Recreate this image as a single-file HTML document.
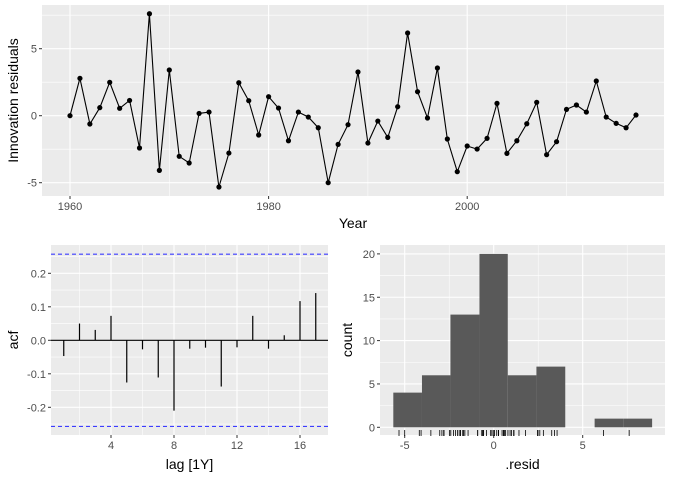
<!DOCTYPE html>
<html><head><meta charset="utf-8">
<style>
html,body{margin:0;padding:0;background:#fff;}
svg{display:block;font-family:"Liberation Sans",Arial,sans-serif;}
.tick{font-size:11px;fill:#4d4d4d;}
.title{font-size:14px;fill:#000;}
</style></head>
<body>
<svg id="chart" width="673" height="477" viewBox="0 0 673 477" xmlns="http://www.w3.org/2000/svg"></svg>
<script>
// ---- data ----
const years = [];
for (let y = 1960; y <= 2017; y++) years.push(y);
const residuals = [0,2.79,-0.62,0.6,2.49,0.55,1.14,-2.41,7.61,-4.08,3.41,-3.03,-3.53,0.17,0.27,-5.32,-2.79,2.46,1.12,-1.44,1.42,0.57,-1.87,0.27,-0.1,-0.9,-5.0,-2.14,-0.67,3.26,-2.04,-0.4,-1.62,0.67,6.17,1.79,-0.17,3.56,-1.74,-4.18,-2.26,-2.49,-1.69,0.92,-2.81,-1.87,-0.6,1.0,-2.91,-1.94,0.47,0.8,0.27,2.59,-0.1,-0.57,-0.9,0.05];
const acfLags = [1,2,3,4,5,6,7,8,9,10,11,12,13,14,15,16,17];
const acfValues = [-0.047,0.05,0.031,0.073,-0.126,-0.027,-0.111,-0.21,-0.025,-0.022,-0.138,-0.021,0.073,-0.025,0.015,0.117,0.141];
const acfBound = 0.257;
const binEdges = [-5.64,-4.03,-2.43,-0.8,0.79,2.4,4.02,5.67,7.28,8.9];
const binCounts = [4,6,13,20,6,7,0,1,1];
const topYTicks = [-5,0,5];
const topXTicks = [1960,1980,2000];
const acfYTicks = [-0.2,-0.1,0.0,0.1,0.2];
const acfXTicks = [4,8,12,16];
const histYTicks = [0,5,10,15,20];
const histXTicks = [-5,0,5];

const NS = "http://www.w3.org/2000/svg";
const svg = document.getElementById("chart");
function mk(tag, attrs, parent) {
  const e = document.createElementNS(NS, tag);
  for (const k in attrs) e.setAttribute(k, attrs[k]);
  (parent || svg).appendChild(e);
  return e;
}
function txt(x, y, s, cls, anchor, parent) {
  const t = mk("text", {x: x, y: y, class: cls, "text-anchor": anchor || "middle"}, parent);
  t.textContent = s;
  return t;
}
function fmt1(v){ return (Math.abs(v)<1e-9?"0.0":v.toFixed(1)).replace("-","-"); }

// ---------- TOP PANEL ----------
const tp = {l:42, r:664, t:5, b:196};
const tx = yr => 70 + (yr - 1960) * 9.93;
const ty = v => 115.7 - v * 13.4;
const gTop = mk("g", {});


mk("rect", {x:tp.l, y:tp.t, width:tp.r-tp.l, height:tp.b-tp.t, fill:"#ebebeb"}, gTop);
[-7.5,-2.5,2.5,7.5].forEach(v => { const y = ty(v); if (y>tp.t && y<tp.b) mk("line",{x1:tp.l,x2:tp.r,y1:y,y2:y,stroke:"#fff","stroke-width":0.55},gTop); });
[1970,1990,2010].forEach(v => { const x = tx(v); mk("line",{x1:x,x2:x,y1:tp.t,y2:tp.b,stroke:"#fff","stroke-width":0.55},gTop); });
topYTicks.forEach(v => { const y = ty(v);
  mk("line",{x1:tp.l,x2:tp.r,y1:y,y2:y,stroke:"#fff","stroke-width":1.1},gTop);
  mk("line",{x1:tp.l-3,x2:tp.l,y1:y,y2:y,stroke:"#333","stroke-width":1},gTop);
  txt(tp.l-5, y+4, String(v), "tick", "end", gTop);
});
topXTicks.forEach(v => { const x = tx(v);
  mk("line",{x1:x,x2:x,y1:tp.t,y2:tp.b,stroke:"#fff","stroke-width":1.1},gTop);
  mk("line",{x1:x,x2:x,y1:tp.b,y2:tp.b+3,stroke:"#333","stroke-width":1},gTop);
  txt(x, tp.b+14, String(v), "tick", "middle", gTop);
});
const pts = years.map((yr,i) => tx(yr).toFixed(1)+","+ty(residuals[i]).toFixed(1)).join(" ");
const line = mk("polyline", {points: pts, fill:"none", stroke:"#000", "stroke-width":1.1}, gTop);


years.forEach((yr,i) => {
  const c = mk("circle", {cx: tx(yr), cy: ty(residuals[i]), r: 2.6, fill:"#000"}, gTop);
  
  
});
const xt1 = txt((tp.l+tp.r)/2, 228, "Year", "title", "middle", gTop);


const yt1 = txt(0, 0, "Innovation residuals", "title", "middle", gTop);
yt1.setAttribute("transform", "translate(18," + ((tp.t+tp.b)/2) + ") rotate(-90)");



// ---------- ACF PANEL ----------
const ap = {l:51, r:328, t:245, b:435};
const ax = lag => 111 + (lag - 4) * 15.75;
const ay = v => 340.3 - v * 335;
const gAcf = mk("g", {});


mk("rect", {x:ap.l, y:ap.t, width:ap.r-ap.l, height:ap.b-ap.t, fill:"#ebebeb"}, gAcf);
[-0.25,-0.15,-0.05,0.05,0.15,0.25].forEach(v => { const y=ay(v); mk("line",{x1:ap.l,x2:ap.r,y1:y,y2:y,stroke:"#fff","stroke-width":0.55},gAcf); });
[2,6,10,14].forEach(v => { const x=ax(v); mk("line",{x1:x,x2:x,y1:ap.t,y2:ap.b,stroke:"#fff","stroke-width":0.55},gAcf); });
acfYTicks.forEach(v => { const y = ay(v);
  mk("line",{x1:ap.l,x2:ap.r,y1:y,y2:y,stroke:"#fff","stroke-width":1.1},gAcf);
  mk("line",{x1:ap.l-3,x2:ap.l,y1:y,y2:y,stroke:"#333","stroke-width":1},gAcf);
  txt(ap.l-5, y+4, v.toFixed(1), "tick", "end", gAcf);
});
acfXTicks.forEach(v => { const x = ax(v);
  mk("line",{x1:x,x2:x,y1:ap.t,y2:ap.b,stroke:"#fff","stroke-width":1.1},gAcf);
  mk("line",{x1:x,x2:x,y1:ap.b,y2:ap.b+3,stroke:"#333","stroke-width":1},gAcf);
  txt(x, ap.b+14, String(v), "tick", "middle", gAcf);
});
mk("line",{x1:ap.l,x2:ap.r,y1:ay(0),y2:ay(0),stroke:"#000","stroke-width":1.1},gAcf);
acfLags.forEach((lag,i) => {
  const b = mk("line",{x1:ax(lag),x2:ax(lag),y1:ay(0),y2:ay(acfValues[i]),stroke:"#000","stroke-width":1.2},gAcf);
  
  
});
[acfBound, -acfBound].forEach(v => {
  const d = mk("line",{x1:ap.l,x2:ap.r,y1:ay(v),y2:ay(v),stroke:"#3d3dff","stroke-width":1.1,"stroke-dasharray":"4,3"},gAcf);
  
  
});
const xt2 = txt((ap.l+ap.r)/2, 469, "lag [1Y]", "title", "middle", gAcf);


const yt2 = txt(0, 0, "acf", "title", "middle", gAcf);
yt2.setAttribute("transform", "translate(18," + ((ap.t+ap.b)/2) + ") rotate(-90)");



// ---------- HISTOGRAM PANEL ----------
const hp = {l:380, r:665, t:245, b:435};
const hx = v => 493.7 + v * 17.8;
const hy = c => 427.3 - c * 8.67;
const gH = mk("g", {});


mk("rect", {x:hp.l, y:hp.t, width:hp.r-hp.l, height:hp.b-hp.t, fill:"#ebebeb"}, gH);
[2.5,7.5,12.5,17.5].forEach(v => { const y=hy(v); mk("line",{x1:hp.l,x2:hp.r,y1:y,y2:y,stroke:"#fff","stroke-width":0.55},gH); });
[-2.5,2.5,7.5].forEach(v => { const x=hx(v); mk("line",{x1:x,x2:x,y1:hp.t,y2:hp.b,stroke:"#fff","stroke-width":0.55},gH); });
histYTicks.forEach(v => { const y = hy(v);
  mk("line",{x1:hp.l,x2:hp.r,y1:y,y2:y,stroke:"#fff","stroke-width":1.1},gH);
  mk("line",{x1:hp.l-3,x2:hp.l,y1:y,y2:y,stroke:"#333","stroke-width":1},gH);
  txt(hp.l-5, y+4, String(v), "tick", "end", gH);
});
histXTicks.forEach(v => { const x = hx(v);
  mk("line",{x1:x,x2:x,y1:hp.t,y2:hp.b,stroke:"#fff","stroke-width":1.1},gH);
  mk("line",{x1:x,x2:x,y1:hp.b,y2:hp.b+3,stroke:"#333","stroke-width":1},gH);
  txt(x, hp.b+14, String(v), "tick", "middle", gH);
});
binCounts.forEach((c,i) => {
  if (c <= 0) return;
  const x0 = hx(binEdges[i]), x1 = hx(binEdges[i+1]);
  const r = mk("rect",{x:x0, y:hy(c), width:x1-x0, height:hy(0)-hy(c), fill:"#595959"},gH);
  
  
});
residuals.forEach(v => {
  const t = mk("line",{x1:hx(v),x2:hx(v),y1:430,y2:436,stroke:"#000","stroke-width":0.8},gH);
  
  
});
const xt3 = txt((hp.l+hp.r)/2, 469, ".resid", "title", "middle", gH);


const yt3 = txt(0, 0, "count", "title", "middle", gH);
yt3.setAttribute("transform", "translate(352," + ((hp.t+hp.b)/2) + ") rotate(-90)");


</script>
</body></html>
